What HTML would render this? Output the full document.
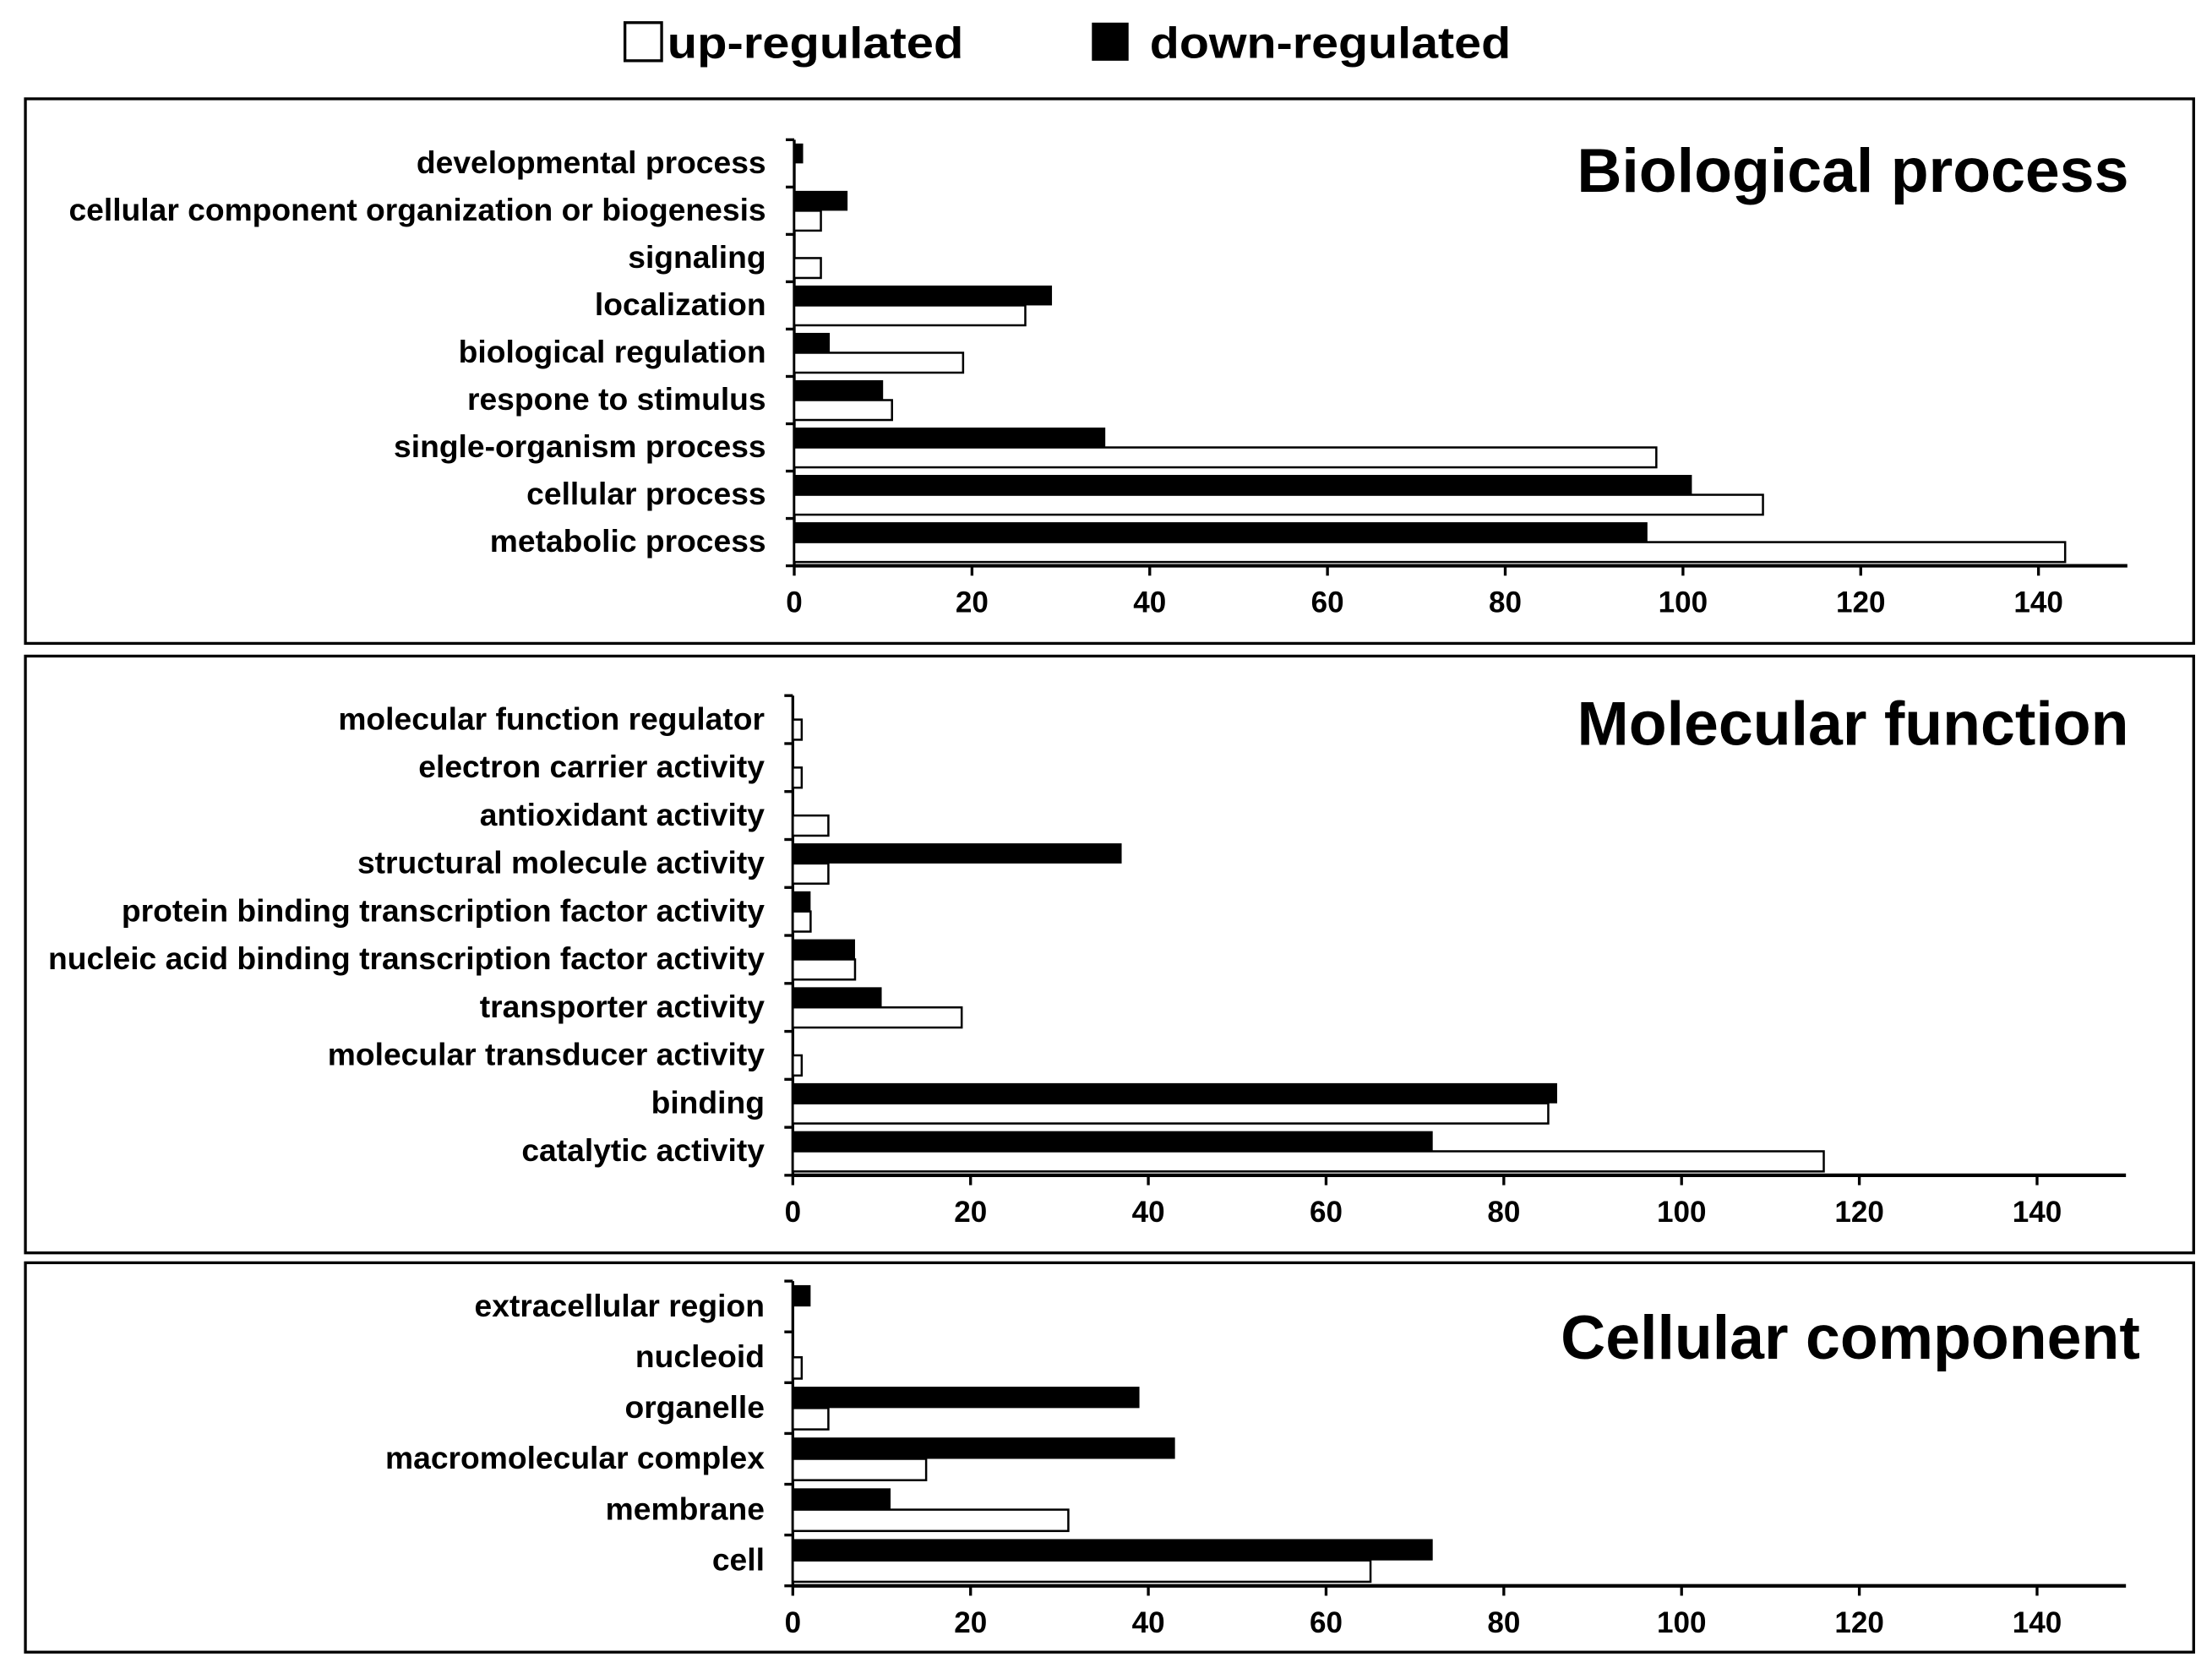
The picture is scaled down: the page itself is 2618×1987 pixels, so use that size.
<!DOCTYPE html>
<html><head><meta charset="utf-8"><style>
html,body{margin:0;padding:0;background:#fff}
svg{display:block}
text{font-family:"Liberation Sans",Arial,sans-serif;font-weight:bold;fill:#000}
</style></head><body>
<svg id="chart" width="2618" height="1987" viewBox="0 0 1568 1190" xmlns="http://www.w3.org/2000/svg">
<g>
<rect x="443" y="16" width="26" height="27" fill="#fff" stroke="#000" stroke-width="2"/>
<text x="473" y="41" font-size="31" textLength="210" lengthAdjust="spacingAndGlyphs">up-regulated</text>
<rect x="774" y="16" width="26" height="27" fill="#000"/>
<text x="815" y="41" font-size="31" textLength="256" lengthAdjust="spacingAndGlyphs">down-regulated</text>
</g>
</svg>
<script>
const bpCats=["developmental process","cellular component organization or biogenesis","signaling","localization","biological regulation","respone to stimulus","single-organism process","cellular process","metabolic process"];
const bpDown=[1,6,0,29,4,10,35,101,96];
const bpUp=[0,3,3,26,19,11,97,109,143];
const mfCats=["molecular function regulator","electron carrier activity","antioxidant activity","structural molecule activity","protein binding transcription factor activity","nucleic acid binding transcription factor activity","transporter activity","molecular transducer activity","binding","catalytic activity"];
const mfDown=[0,0,0,37,2,7,10,0,86,72];
const mfUp=[1,1,4,4,2,7,19,1,85,116];
const ccCats=["extracellular region","nucleoid","organelle","macromolecular complex","membrane","cell"];
const ccDown=[2,0,39,43,11,72];
const ccUp=[0,1,4,15,31,65];
const xTicks=[0,20,40,60,80,100,120,140];
const xMax=150;

const NS="http://www.w3.org/2000/svg";
const svg=document.getElementById('chart');
function mk(tag,attrs,parent){const e=document.createElementNS(NS,tag);for(const k in attrs)e.setAttribute(k,attrs[k]);parent.appendChild(e);return e;}

function panel(name,title,cats,down,up,box,x0,plotTop,axisY,titleX,titleY){
  const g=mk('g',{},svg);
  
  
  const r=mk('rect',{x:box[0],y:box[1],width:box[2],height:box[3],fill:'none',stroke:'#000','stroke-width':2},g);
  
  
  const x140=x0+882;
  const xs=v=>x0+v*(x140-x0)/140;
  const step=(axisY-plotTop)/cats.length;
  const bh=step*0.42;
  const ya=mk('line',{x1:x0,y1:plotTop,x2:x0,y2:axisY,stroke:'#000','stroke-width':2},g);
  
  
  for(let i=0;i<=cats.length;i++){
    const t=mk('line',{x1:x0-6,y1:plotTop+i*step,x2:x0,y2:plotTop+i*step,stroke:'#000','stroke-width':2},g);
    
    
  }
  cats.forEach((c,i)=>{
    const cy=plotTop+(i+0.5)*step;
    const lt=mk('text',{x:x0-20,y:cy+7,'font-size':22.3,'text-anchor':'end'},g);
    lt.textContent=c;
    
    
    if(down[i]>0){
      const b=mk('rect',{x:x0,y:cy-bh,width:xs(down[i])-x0,height:bh,fill:'#000'},g);
      
      
    }
    if(up[i]>0){
      const b=mk('rect',{x:x0,y:cy,width:xs(up[i])-x0,height:bh,fill:'#fff',stroke:'#000','stroke-width':1.5},g);
      
      
    }
  });
  const xa=mk('line',{x1:x0,y1:axisY,x2:xs(xMax),y2:axisY,stroke:'#000','stroke-width':2.5},g);
  
  
  xTicks.forEach(v=>{
    const t=mk('line',{x1:xs(v),y1:axisY,x2:xs(v),y2:axisY+7,stroke:'#000','stroke-width':2},g);
    
    
    const tl=mk('text',{x:xs(v),y:axisY+33,'font-size':21,'text-anchor':'middle'},g);
    tl.textContent=v;
    
    
  });
  const tt=mk('text',{x:titleX,y:titleY,'font-size':44,'text-anchor':'end'},g);
  tt.textContent=title;
  
  
}
panel('biological-process','Biological process',bpCats,bpDown,bpUp,[18,70,1537,386],563,99,401,1509,136);
panel('molecular-function','Molecular function',mfCats,mfDown,mfUp,[18,465,1537,423],562,493,833,1509,528);
panel('cellular-component','Cellular component',ccCats,ccDown,ccUp,[18,895,1537,276],562,908,1124,1517,963);
</script>
</body></html>
